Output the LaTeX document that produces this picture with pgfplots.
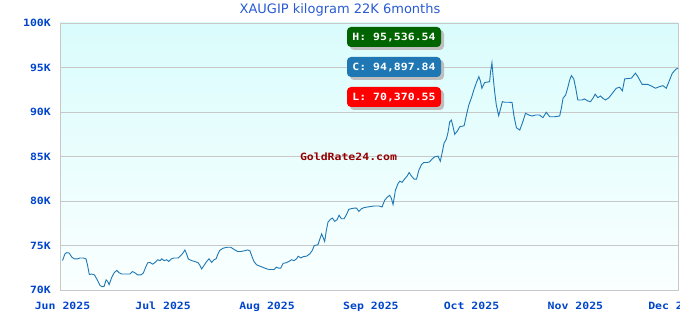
\documentclass[border=0pt]{standalone}
\usepackage{pgfplots}
\pgfplotsset{compat=1.18}
\usepackage{fontspec}
\setmainfont{DejaVu Sans}
\newfontfamily\pixfont[FakeStretch=1.15]{DejaVu Sans Mono}
\definecolor{tickblue}{RGB}{0,68,204}
\definecolor{titleblue}{RGB}{40,90,210}
\definecolor{gridgray}{RGB}{200,200,200}
\definecolor{linecol}{RGB}{31,119,180}
\definecolor{bgtop}{RGB}{218,252,252}
\definecolor{bgbot}{RGB}{250,255,255}
\definecolor{hgreen}{RGB}{0,100,0}
\definecolor{cblue}{RGB}{31,119,180}
\definecolor{lred}{RGB}{255,0,0}
\definecolor{wmred}{RGB}{150,0,0}
\definecolor{shadowgray}{RGB}{190,190,190}
\newcommand{\pix}{\pixfont\bfseries\fontsize{10}{12}\selectfont}
\begin{document}
\begin{tikzpicture}
\useasboundingbox (0,0) rectangle (680pt,320pt);
\begin{axis}[
  at={(60pt,30pt)}, anchor=south west,
  scale only axis, width=618pt, height=267pt,
  xmin=-0.75, xmax=183.6, ymin=70000, ymax=100000,
  scaled y ticks=false,
  axis background/.style={top color=bgtop, bottom color=bgbot},
  axis line style={draw=gridgray, line width=0.8pt},
  ymajorgrids, major grid style={draw=gridgray, line width=0.8pt},
  major tick length=0pt,
  xtick={0,30,61,92,122,153,183},
  xticklabels={Jun 2025,Jul 2025,Aug 2025,Sep 2025,Oct 2025,Nov 2025,Dec 2025},
  ytick={70000,75000,80000,85000,90000,95000,100000},
  yticklabels={70K,75K,80K,85K,90K,95K,100K},
  ticklabel style={font=\pix, text=tickblue},
  yticklabel style={anchor=east, inner sep=0pt, xshift=-9pt},
  xticklabel style={anchor=north, inner sep=0pt, yshift=-12pt},
]
\addplot[color=linecol, line width=0.9pt, mark=none] coordinates {
(0,73310)(0.75,74070)(1.25,74200)(2.0,74150)(2.75,73700)(3.5,73500)(4.5,73500)(5.2,73600)(6.2,73600)(7.0,73500)
(7.4,72900)(8.0,71740)(8.7,71800)(9.5,71700)(10.2,71250)(11.2,70500)(11.9,70370)(12.4,70400)(13.0,71140)(13.5,70950)
(13.9,70600)(14.7,71430)(15.4,71930)(16.2,72200)(16.9,71930)(17.6,71800)(19.1,71800)(20.1,71800)(20.9,72070)(21.6,71930)
(22.4,71700)(23.4,71700)(24.1,71900)(24.8,72560)(25.4,73050)(26.1,73100)(26.9,72900)(27.6,73100)(28.4,73400)(29.1,73300)
(29.6,73500)(30.3,73300)(31.1,73400)(31.7,73200)(32.5,73500)(33.3,73600)(34.5,73600)(35.3,73880)(36.0,74180)(36.5,74500)
(37.0,74070)(37.5,73500)(38.5,73300)(39.5,73200)(40.5,73050)(41.0,72750)(41.5,72370)(42.3,72800)(43.0,73200)(43.7,73500)
(44.5,73100)(45.2,73400)(45.8,73500)(46.4,74070)(46.9,74450)(47.9,74700)(49.2,74800)(50.2,74800)(51.2,74550)(52.2,74330)
(53.2,74330)(54.2,74400)(55.2,74500)(55.9,74400)(56.4,73880)(57.1,73200)(57.9,72830)(58.9,72670)(59.9,72530)(60.9,72370)
(61.8,72300)(63.1,72300)(63.8,72560)(64.5,72450)(65.1,72450)(65.8,73000)(66.6,73050)(67.5,73200)(68.3,73400)(69.1,73300)
(69.8,73500)(70.3,73800)(71.1,73600)(71.8,73750)(72.8,73800)(73.8,74070)(74.5,74440)(75.1,75000)(76.2,75080)(76.8,75760)
(77.3,76300)(77.7,75940)(78.2,75450)(78.7,76700)(79.2,77630)(79.9,77940)(80.5,78080)(81.2,77710)(81.9,77900)(82.5,78400)
(83.2,78000)(84.0,78000)(84.7,78470)(85.4,79070)(86.2,79140)(87.0,79200)(87.7,79200)(88.4,78830)(89.2,79140)(90.0,79260)
(91.1,79330)(92.2,79400)(93.1,79440)(94.4,79440)(95.3,79330)(96.1,80080)(96.9,80450)(97.6,80640)(98.1,80300)(98.6,79600)
(99.3,81200)(100.1,81960)(100.6,82220)(101.3,82100)(102.1,82500)(102.8,82800)(103.4,83200)(104.1,82800)(104.9,82450)(105.6,82450)
(106.3,83460)(107.1,84100)(107.8,84330)(108.9,84330)(109.5,84400)(110.2,84700)(111.0,84960)(112.0,85040)(112.7,84470)(113.3,85520)
(113.8,86470)(114.5,86960)(115.0,87710)(115.5,88910)(116.0,89100)(116.5,88340)(117.0,87490)(117.8,87860)(118.5,88340)(119.8,88460)
(120.5,89660)(121.2,90790)(122.0,91610)(122.7,92480)(123.4,93240)(124.2,93980)(124.7,93420)(125.1,92670)(125.9,93300)(126.7,93360)
(127.4,93400)(127.7,94540)(128.1,95537)(128.4,94170)(128.9,92290)(129.4,90790)(130.1,89580)(130.7,90420)(131.2,91160)(131.9,91100)
(132.9,91100)(134.1,91070)(134.7,89470)(135.4,88230)(136.4,87970)(137.3,88900)(138.1,89850)(139.1,89660)(140.1,89550)(141.1,89660)
(142.3,89660)(143.3,89360)(144.3,89970)(145.3,89470)(146.8,89470)(148.3,89550)(148.8,90420)(149.3,91540)(150.1,91920)(150.8,92850)
(151.3,93600)(151.8,94090)(152.5,93720)(153.1,92670)(153.7,91350)(155.0,91350)(155.7,91470)(156.7,91240)(157.5,91160)(158.2,91540)
(158.9,92000)(159.7,91610)(160.5,91800)(161.2,91540)(162.0,91350)(163.0,91610)(164.0,92100)(165.2,92670)(166.2,92780)(167.0,92370)
(167.7,93720)(169.7,93800)(170.9,94360)(171.6,93980)(172.9,93100)(174.6,93100)(175.6,92930)(176.9,92670)(178.1,92850)(179.1,92960)
(180.1,92670)(181.1,93600)(181.9,94360)(183.1,94850)(183.6,94898)
};
\end{axis}
\node[font=\fontsize{13}{15}\selectfont, text=titleblue] at (340pt,310pt) {XAUGIP kilogram 22K 6months};
\node[font=\pix, text=wmred] at (348.5pt,163pt) {GoldRate24.com};
\tikzset{lbl/.style={minimum width=94pt, minimum height=20pt, inner sep=0pt, rounded corners=4pt, font=\pix, text=white}}
\foreach \yy/\cc/\tt in {283/hgreen/{H: 95,536.54}, 253/cblue/{C: 94,897.84}, 223/lred/{L: 70,370.55}} {
  \node[lbl, fill=shadowgray] at (397pt,\yy pt-3pt) {};
  \node[lbl, fill=\cc] at (394pt,\yy pt) {\tt};
}
\end{tikzpicture}
\end{document}
